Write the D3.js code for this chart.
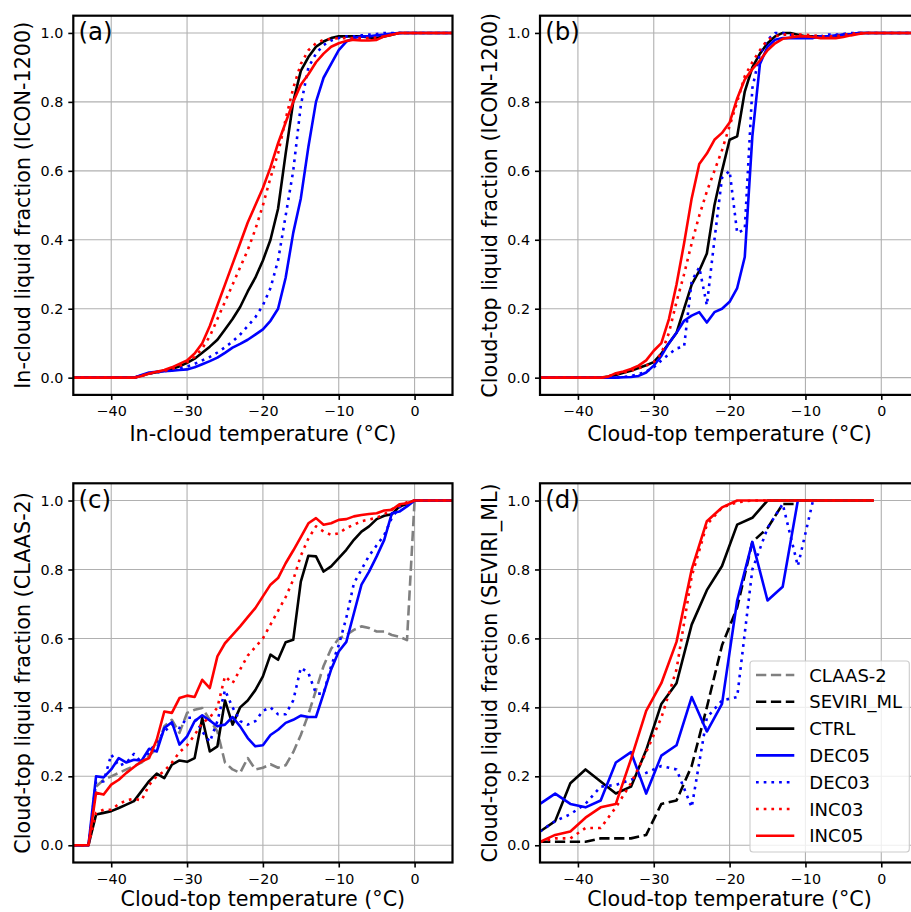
<!DOCTYPE html>
<html>
<head>
<meta charset="utf-8">
<script src="https://cdn.jsdelivr.net/npm/d3@7"></script>
<style>
  body { margin: 0; background: #fff; }
  svg { display: block; font-family: "DejaVu Sans", sans-serif; }
</style>
</head>
<body>
<div id="chart"></div>
<script>
// ---- data ----
const xTicks = [-40, -30, -20, -10, 0];
const yTicks = [0, 0.2, 0.4, 0.6, 0.8, 1.0];

// panels (a) and (b): ICON-1200 fractions
const tempsAB = [-45,-38,-37,-36,-35,-34,-33,-32,-31,-30,-29,-28,-27,-26,-25,-24,-23,-22,-21,-20,-19,-18,-17,-16,-15,-14,-13,-12,-11,-10,-9,-8,-7,-6,-5,-4,-3,-2,-1,0,5];

const ctrlA  = [0,0,0,.006,.012,.016,.02,.025,.033,.043,.055,.072,.09,.11,.14,.17,.205,.25,.29,.34,.40,.49,.65,.80,.89,.93,.96,.975,.985,.99,.99,.99,.99,.987,.985,.99,.995,1,1,1,1];
const dec05A = [0,0,0,.008,.015,.017,.019,.02,.022,.024,.03,.039,.048,.058,.072,.087,.098,.11,.125,.14,.165,.2,.29,.42,.52,.67,.8,.87,.91,.95,.975,.985,.99,.99,.993,.995,.998,1,1,1,1];
const dec03A = [0,0,0,.006,.012,.015,.019,.022,.027,.032,.04,.05,.06,.073,.088,.105,.125,.15,.175,.21,.26,.34,.47,.6,.79,.9,.94,.965,.978,.985,.99,.99,.993,.995,.997,1,1,1,1,1,1];
const inc03A = [0,0,0,.006,.012,.016,.02,.025,.034,.045,.06,.085,.12,.17,.22,.27,.32,.37,.43,.5,.58,.65,.75,.84,.91,.95,.97,.98,.983,.985,.985,.985,.985,.985,.987,.99,.995,1,1,1,1];
const inc05A = [0,0,0,.005,.012,.017,.022,.03,.04,.05,.07,.1,.15,.21,.27,.33,.39,.45,.5,.55,.61,.68,.74,.8,.85,.88,.915,.94,.96,.97,.977,.98,.978,.978,.98,.99,.995,1,1,1,1];

const ctrlB  = [0,0,0,.003,.008,.014,.02,.028,.036,.045,.07,.1,.13,.2,.27,.31,.36,.5,.6,.69,.7,.83,.9,.94,.97,.99,1,1,.995,.99,.99,.99,.99,.99,.995,.995,1,1,1,1,1];
const dec05B = [0,0,0,0,0,.001,.002,.005,.015,.035,.063,.1,.13,.165,.18,.19,.16,.19,.2,.22,.26,.35,.7,.91,.96,.98,.985,.985,.985,.985,.985,.99,.99,.993,.995,.997,1,1,1,1,1];
const dec03B = [0,0,0,0,0,.002,.005,.01,.018,.03,.05,.068,.085,.09,.28,.32,.21,.4,.58,.6,.42,.43,.84,.94,.98,1,1,.995,.99,.99,.99,.99,.995,.995,.997,1,1,1,1,1,1];
const inc03B = [0,0,0,.004,.01,.015,.02,.027,.035,.045,.07,.13,.22,.3,.39,.47,.54,.6,.66,.73,.8,.875,.915,.95,.98,.99,.995,.995,.995,.995,.993,.99,.99,.99,.995,.997,1,1,1,1,1];
const inc05B = [0,0,0,.003,.013,.018,.025,.035,.05,.078,.1,.17,.27,.39,.52,.62,.65,.69,.71,.74,.81,.865,.895,.92,.95,.97,.983,.987,.99,.99,.988,.985,.985,.985,.988,.993,.997,1,1,1,1];

// panel (c): CLAAS-2 fractions, 1 degree bins
const tempsC = [-45,-44,-43,-42,-41,-40,-39,-38,-37,-36,-35,-34,-33,-32,-31,-30,-29,-28,-27,-26,-25,-24,-23,-22,-21,-20,-19,-18,-17,-16,-15,-14,-13,-12,-11,-10,-9,-8,-7,-6,-5,-4,-3,-2,-1,0,5];

const claasC = [0,0,0,.17,.19,.2,.21,.22,.23,.24,.26,.28,.345,.364,.326,.384,.393,.398,.364,.33,.24,.22,.21,.253,.22,.225,.235,.225,.232,.27,.32,.38,.45,.52,.57,.6,.61,.625,.635,.63,.62,.62,.61,.605,.595,1,1];
const ctrlC  = [0,0,0,.089,.094,.099,.108,.118,.128,.157,.186,.208,.195,.234,.246,.242,.253,.369,.272,.287,.42,.35,.4,.42,.45,.49,.553,.538,.589,.596,.765,.84,.838,.794,.809,.833,.857,.886,.91,.925,.946,.956,.96,.983,.99,1,1];
const dec05C = [0,0,0,.2,.197,.22,.253,.24,.248,.245,.28,.272,.34,.357,.292,.316,.36,.377,.362,.345,.35,.372,.345,.311,.287,.29,.32,.335,.355,.364,.376,.372,.372,.44,.51,.562,.59,.673,.756,.794,.838,.886,.963,.968,.983,1,1];
const dec03C = [0,0,0,.185,.185,.263,.23,.24,.265,.24,.27,.3,.33,.35,.34,.37,.37,.33,.3,.36,.45,.4,.36,.35,.36,.39,.4,.38,.38,.42,.515,.5,.44,.44,.52,.58,.66,.76,.8,.84,.87,.9,.95,.98,.99,1,1];
const inc03C = [0,0,0,.094,.103,.103,.12,.13,.135,.13,.175,.2,.215,.24,.27,.29,.32,.355,.37,.4,.49,.47,.51,.55,.575,.6,.64,.68,.72,.77,.84,.89,.925,.91,.9,.905,.92,.93,.94,.945,.95,.96,.975,.985,.995,1,1];
const inc05C = [0,0,0,.152,.147,.176,.19,.21,.227,.243,.253,.306,.388,.384,.427,.434,.43,.48,.456,.548,.586,.61,.635,.662,.688,.722,.756,.775,.818,.855,.894,.934,.949,.93,.934,.944,.946,.954,.958,.961,.963,.971,.973,.989,.992,1,1];

// panel (d): SEVIRI_ML fractions, 2 degree bins
const tempsD = [-45,-43,-41,-39,-37,-35,-33,-31,-29,-27,-25,-23,-21,-19,-17,-15,-13,-11,-9,-7,-5,-3,-1];

const seviriD = [.01,.01,.01,.01,.02,.02,.02,.03,.12,.13,.23,.4,.58,.69,.88,.92,.99,.99,null,null,null,null,null];
const ctrlD   = [.04,.07,.18,.22,.185,.15,.17,.276,.41,.47,.64,.74,.81,.93,.95,1,1,1,1,1,1,1,1];
const dec05D  = [.12,.15,.12,.11,.13,.24,.27,.15,.26,.29,.43,.33,.41,.71,.88,.71,.75,1,null,null,null,null,null];
const dec03D  = [.04,.07,.09,.12,.17,.175,.19,.21,.23,.22,.11,.37,.42,.43,.8,.92,.99,.81,1,null,null,null,null];
const inc03D  = [.01,.02,.02,.05,.05,.11,.18,.27,.37,.51,.78,.93,.98,.995,1,1,1,1,1,1,1,1,1];
const inc05D  = [.01,.03,.04,.08,.11,.12,.25,.39,.47,.59,.8,.94,.98,1,1,1,1,1,1,1,1,1,1];

// ---- styles ----
const lw = 2.6;
const styles = {
  'CLAAS-2':   {color: 'gray',  dash: '10.3,4.6'},
  'SEVIRI_ML': {color: 'black', dash: '10.3,4.6'},
  'CTRL':      {color: 'black', dash: null},
  'DEC05':     {color: 'blue',  dash: null},
  'DEC03':     {color: 'blue',  dash: '2.7,5'},
  'INC03':     {color: 'red',   dash: '2.7,5'},
  'INC05':     {color: 'red',   dash: null}
};
const legendOrder = ['CLAAS-2', 'SEVIRI_ML', 'CTRL', 'DEC05', 'DEC03', 'INC03', 'INC05'];

const W = 911, H = 912;
const svg = d3.select('#chart').append('svg').attr('width', W).attr('height', H);

const panels = [
  {id: 'a', left: 73.3, top: 15.7, temps: tempsAB, labelDy: 46.2,
   xlabel: 'In-cloud temperature (°C)', ylabel: 'In-cloud liquid fraction (ICON-1200)',
   series: [['CTRL', ctrlA], ['DEC05', dec05A], ['DEC03', dec03A], ['INC03', inc03A], ['INC05', inc05A]]},
  {id: 'b', left: 540, top: 15.7, temps: tempsAB, labelDy: 46.2,
   xlabel: 'Cloud-top temperature (°C)', ylabel: 'Cloud-top liquid fraction (ICON-1200)',
   series: [['CTRL', ctrlB], ['DEC05', dec05B], ['DEC03', dec03B], ['INC03', inc03B], ['INC05', inc05B]]},
  {id: 'c', left: 73.3, top: 483.3, temps: tempsC, labelDy: 43.8,
   xlabel: 'Cloud-top temperature (°C)', ylabel: 'Cloud-top liquid fraction (CLAAS-2)',
   series: [['CLAAS-2', claasC], ['CTRL', ctrlC], ['DEC05', dec05C], ['DEC03', dec03C], ['INC03', inc03C], ['INC05', inc05C]]},
  {id: 'd', left: 540, top: 483.3, temps: tempsD, labelDy: 43.8, legend: true,
   xlabel: 'Cloud-top temperature (°C)', ylabel: 'Cloud-top liquid fraction (SEVIRI_ML)',
   series: [['SEVIRI_ML', seviriD], ['CTRL', ctrlD], ['DEC05', dec05D], ['DEC03', dec03D], ['INC03', inc03D], ['INC05', inc05D]]}
];

const pw = 379.2, ph = 379.2;

panels.forEach(drawPanel);

function drawPanel(p) {
  const x = d3.scaleLinear().domain([-45, 5]).range([p.left, p.left + pw]);
  const y = d3.scaleLinear().domain([-0.05, 1.05]).range([p.top + ph, p.top]);
  const g = svg.append('g');

  g.append('clipPath').attr('id', 'clip-' + p.id)
    .append('rect').attr('x', p.left).attr('y', p.top).attr('width', pw).attr('height', ph);

  // grid
  g.append('g').selectAll('line').data(xTicks).join('line')
    .attr('x1', d => x(d)).attr('x2', d => x(d))
    .attr('y1', p.top).attr('y2', p.top + ph)
    .attr('stroke', '#b0b0b0').attr('stroke-width', 1.1);
  g.append('g').selectAll('line').data(yTicks).join('line')
    .attr('x1', p.left).attr('x2', p.left + pw)
    .attr('y1', d => y(d)).attr('y2', d => y(d))
    .attr('stroke', '#b0b0b0').attr('stroke-width', 1.1);

  // lines
  const line = d3.line()
    .defined(d => d[1] !== null)
    .x(d => x(d[0])).y(d => y(d[1]));
  const lg = g.append('g').attr('clip-path', 'url(#clip-' + p.id + ')');
  p.series.forEach(([name, vals]) => {
    const st = styles[name];
    lg.append('path')
      .datum(p.temps.map((t, i) => [t, vals[i]]))
      .attr('d', line)
      .attr('fill', 'none')
      .attr('stroke', st.color)
      .attr('stroke-width', lw)
      .attr('stroke-dasharray', st.dash)
      .attr('stroke-linejoin', 'round');
  });

  // axes
  const xa = g.append('g').attr('transform', `translate(0,${p.top + ph})`)
    .call(d3.axisBottom(x).tickValues(xTicks).tickSize(5).tickPadding(6.3).tickFormat(d3.format('d')));
  const ya = g.append('g').attr('transform', `translate(${p.left},0)`)
    .call(d3.axisLeft(y).tickValues(yTicks).tickSize(5).tickPadding(5).tickFormat(d3.format('.1f')));
  [xa, ya].forEach(a => {
    a.select('.domain').remove();
    a.selectAll('.tick line').attr('stroke', '#000').attr('stroke-width', 1.6);
    a.selectAll('.tick text').attr('fill', '#000')
      .style('font-size', '14.3px').style('font-family', '"DejaVu Sans", sans-serif');
  });

  // spines
  g.append('rect').attr('x', p.left).attr('y', p.top).attr('width', pw).attr('height', ph)
    .attr('fill', 'none').attr('stroke', '#000').attr('stroke-width', 2.2);

  // labels
  g.append('text')
    .attr('x', p.left + pw / 2).attr('y', p.top + ph + p.labelDy)
    .attr('text-anchor', 'middle').style('font-size', '20.7px')
    .text(p.xlabel);
  g.append('text')
    .attr('transform', `translate(${p.left - 43.3},${p.top + ph / 2}) rotate(-90)`)
    .attr('text-anchor', 'middle').style('font-size', '20.7px')
    .text(p.ylabel);
  g.append('text')
    .attr('x', p.left + 5.2).attr('y', p.top + 24.6)
    .style('font-size', '24.5px')
    .text('(' + p.id + ')');

  if (p.legend) drawLegend();
}

function drawLegend() {
  const lx = 750, ly = 661, lwid = 159.3, lh = 191;
  const lg = svg.append('g');
  lg.append('rect').attr('x', lx).attr('y', ly).attr('width', lwid).attr('height', lh)
    .attr('rx', 3).attr('fill', '#fff').attr('fill-opacity', 0.8)
    .attr('stroke', '#cccccc').attr('stroke-width', 1.1);
  legendOrder.forEach((name, i) => {
    const cy = 675 + i * 26.8;
    const st = styles[name];
    lg.append('line').attr('x1', 756).attr('x2', 794.3).attr('y1', cy).attr('y2', cy)
      .attr('stroke', st.color).attr('stroke-width', lw).attr('stroke-dasharray', st.dash);
    lg.append('text').attr('x', 809.3).attr('y', cy + 6.6)
      .style('font-size', '18px').text(name);
  });
}
</script>
</body>
</html>
